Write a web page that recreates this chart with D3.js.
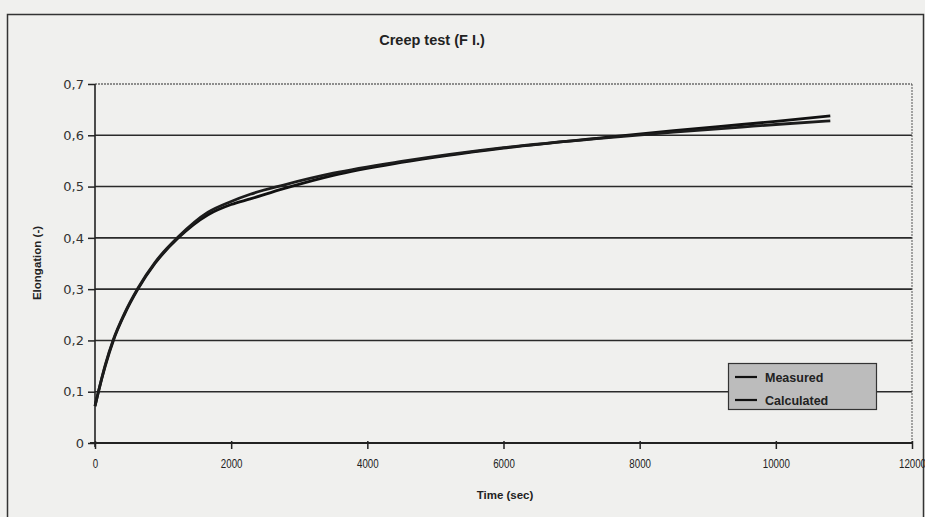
<!DOCTYPE html>
<html><head><meta charset="utf-8">
<script src="https://cdn.jsdelivr.net/npm/d3@7"></script>
<style>
html,body{margin:0;padding:0;background:#f0f0ee;}
svg{display:block;}
</style></head>
<body>
<svg id="chart" width="925" height="517"></svg>
<script>
const title = "Creep test (F I.)";
const xLabel = "Time (sec)";
const yLabel = "Elongation (-)";
const seriesNames = ["Measured", "Calculated"];
const xTicks = [0, 2000, 4000, 6000, 8000, 10000, 12000];
const yTicks = [0, 0.1, 0.2, 0.3, 0.4, 0.5, 0.6, 0.7];
const yTickLabels = ["0", "0,1", "0,2", "0,3", "0,4", "0,5", "0,6", "0,7"];
const timeSec = [0, 50, 150, 270, 430, 630, 880, 1224, 1660, 2000, 2280, 2770, 3500, 4500, 6000, 7500, 8500, 9500, 10000, 10800];
const measured = [0.072, 0.100, 0.150, 0.200, 0.250, 0.300, 0.350, 0.400, 0.445, 0.465, 0.476, 0.496, 0.522, 0.547, 0.575, 0.596, 0.609, 0.621, 0.627, 0.638];
const calculated = [0.072, 0.100, 0.152, 0.202, 0.252, 0.302, 0.352, 0.402, 0.450, 0.471, 0.485, 0.503, 0.526, 0.549, 0.576, 0.595, 0.606, 0.616, 0.621, 0.628];

const svg = d3.select("#chart");
const W = 925, H = 517;
const L = 95, R = 912, T = 84, B = 443;
const x = d3.scaleLinear().domain([0, 12000]).range([L, R]);
const y = d3.scaleLinear().domain([0, 0.7]).range([B, T]);
const ink = "#222";

// outer frame
svg.append("rect").attr("x", 0).attr("y", 0).attr("width", W).attr("height", H).attr("fill", "#f0f0ee");
svg.append("path").attr("d", `M7.5,${H} V14.5 H923.5 V${H}`).attr("fill", "none").attr("stroke", "#333").attr("stroke-width", 1.5);

// gridlines
svg.append("g").selectAll("line").data(yTicks.slice(1)).join("line")
  .attr("x1", L).attr("x2", R).attr("y1", d => y(d)).attr("y2", d => y(d))
  .attr("stroke", "#2a2a2a").attr("stroke-width", d => d === 0.7 ? 1 : 1.6)
  .attr("stroke-dasharray", d => d === 0.7 ? "2,1" : null);
// right border of plot
svg.append("line").attr("x1", R).attr("x2", R).attr("y1", T).attr("y2", B)
  .attr("stroke", "#555").attr("stroke-width", 1).attr("stroke-dasharray", "2,1");

// y axis
const yAxis = d3.axisLeft(y).tickValues(yTicks).tickFormat((d, i) => yTickLabels[i]).tickSize(7).tickPadding(4);
const gy = svg.append("g").attr("transform", `translate(${L},0)`).call(yAxis);
gy.select(".domain").attr("stroke", ink).attr("stroke-width", 1.6).attr("d", `M0,${T}V${B + 4}`);
gy.selectAll(".tick line").attr("stroke", ink).attr("stroke-width", 1.5);
gy.selectAll(".tick text").attr("fill", "#333").style("font-family", "'DejaVu Sans', Verdana, sans-serif").style("font-size", "13px");

// x axis
const xAxis = d3.axisBottom(x).tickValues(xTicks).tickFormat(d3.format("d")).tickSize(6).tickPadding(10);
const gx = svg.append("g").attr("transform", `translate(0,${B})`).call(xAxis);
gx.select(".domain").attr("stroke", ink).attr("stroke-width", 2).attr("d", `M${L - 5},0H${R}`);
gx.selectAll(".tick line").attr("stroke", ink).attr("stroke-width", 1.5).attr("y1", -2);
gx.selectAll(".tick text").attr("fill", "#222")
  .style("font-family", "'Liberation Sans', Arial, sans-serif").style("font-size", "12.5px")
  .attr("transform", "scale(0.78,1)");

// title & labels
svg.append("text").attr("x", 432).attr("y", 45).attr("text-anchor", "middle")
  .style("font-family", "'Liberation Sans', Arial, sans-serif").style("font-weight", "bold").style("font-size", "14.5px")
  .attr("fill", "#222").text(title);
svg.append("text").attr("x", 505).attr("y", 499).attr("text-anchor", "middle")
  .style("font-family", "'Liberation Sans', Arial, sans-serif").style("font-weight", "bold").style("font-size", "11.5px")
  .attr("fill", "#222").text(xLabel);
svg.append("text").attr("transform", `translate(41,263) rotate(-90)`).attr("text-anchor", "middle")
  .style("font-family", "'Liberation Sans', Arial, sans-serif").style("font-weight", "bold").style("font-size", "11.5px")
  .attr("fill", "#222").text(yLabel);

// lines
const series = [measured, calculated];
const line = d3.line().x(d => x(d[0])).y(d => y(d[1])).curve(d3.curveMonotoneX);
svg.append("g").selectAll("path").data(series).join("path")
  .attr("d", s => line(timeSec.map((t, i) => [t, s[i]])))
  .attr("fill", "none").attr("stroke", (d, i) => i === 0 ? "#111" : "#1c1c1c").attr("stroke-width", 2.8);

// legend
const lg = svg.append("g");
lg.append("rect").attr("x", 728.5).attr("y", 363.5).attr("width", 148).attr("height", 46)
  .attr("fill", "#bcbcbc").attr("stroke", "#333").attr("stroke-width", 1.2);
seriesNames.forEach((n, i) => {
  const yy = 377 + i * 23;
  lg.append("line").attr("x1", 735).attr("x2", 757).attr("y1", yy).attr("y2", yy).attr("stroke", "#111").attr("stroke-width", 2.2);
  lg.append("text").attr("x", 765).attr("y", yy + 4.5)
    .style("font-family", "'Liberation Sans', Arial, sans-serif").style("font-weight", "bold").style("font-size", "12.5px")
    .attr("fill", "#222").text(n);
});
</script>
</body></html>
